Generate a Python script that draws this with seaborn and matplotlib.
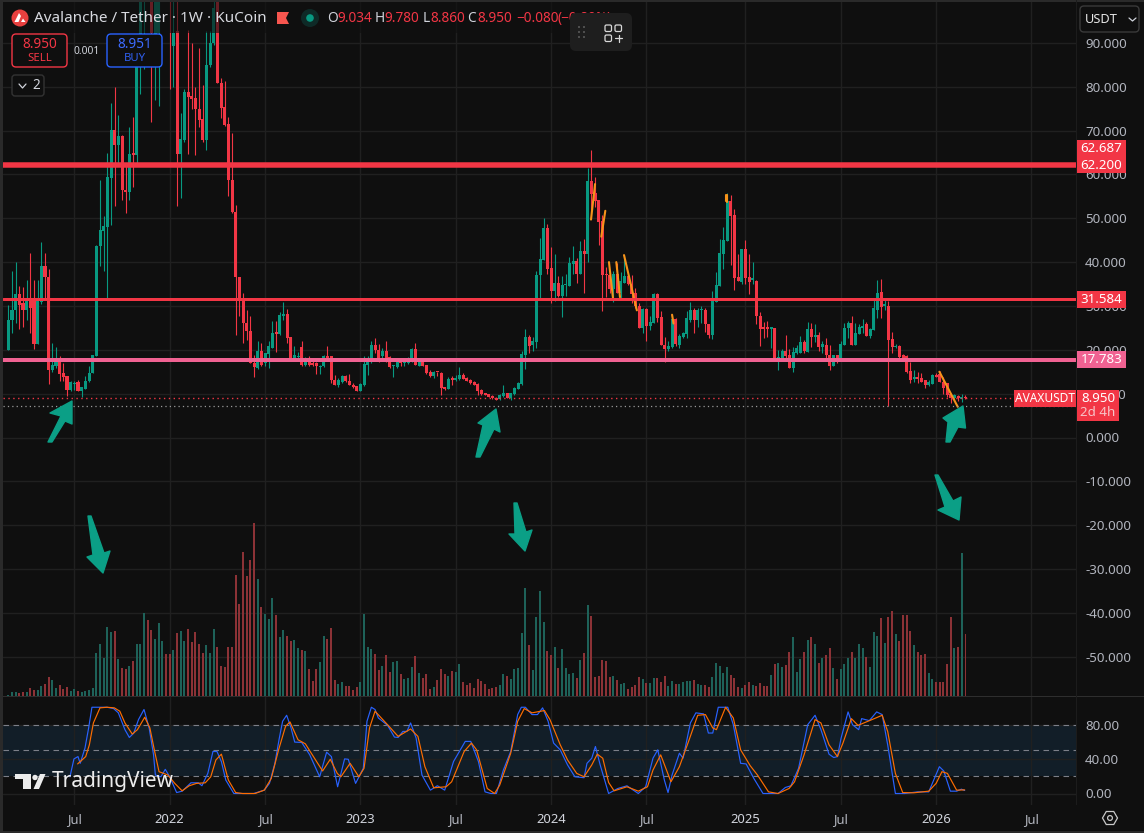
import numpy as np
import pandas as pd
import matplotlib
matplotlib.use("Agg")
import matplotlib.pyplot as plt
from matplotlib.patches import FancyBboxPatch, Polygon, Circle, Rectangle
import seaborn as sns

opens = [19.9,26.8,29,32.8,30.6,29.1,31.4,31.4,21.4,31,
39,36.6,15.4,16.2,17.9,14.7,14.1,10.9,12.2,12.6,
10.5,11.1,12.8,14.8,18.5,43.6,47.2,48.1,59.1,70.2,
66.7,68.8,56.5,56.1,64.7,64.5,84.6,108,125,112,
92,92.2,118,135,120,89.3,92.6,64.7,67.9,78.9,
77.8,77.4,75,72.6,67.9,85,90,100,80.8,75.3,
71.4,58.8,51.5,36.5,31.4,26.1,24.3,17,15.8,19.8,
17,19.1,20.4,24,23.6,27.8,28.2,22.9,18.1,18.3,
20.6,16.6,18.1,17,17.1,16,16.2,18.5,18.5,13.2,
12,12.7,14.1,12.9,12,11.8,10.7,12,16.6,17.3,
21,20,18.5,19.8,18.3,16.2,16,17.4,17.1,17.1,
17.3,20.2,16.4,17.3,16.5,15,14,15,14.8,11.6,
11,13.5,13,13.3,14.3,13.6,13.1,12.7,12.2,10.8,
10.1,9.9,9.5,9.1,8.7,9.5,10.1,9.1,10,11.1,
12.1,18.8,23,21,21.8,37,40.5,47.7,38.6,33.5,
35.2,32.3,34.7,34.6,39.6,40.3,37.3,42.5,41.9,58.5,
55.7,54.2,49.4,37.2,37,33.9,37.3,32.9,35.3,36.8,
35,32.9,30,24.9,29.3,25.4,26.2,32.7,27.4,21.2,
20.2,20.6,27,21.1,23,23.6,26.8,29.1,26.8,29,
29.1,25.9,23.4,30.8,34.6,41.8,44.9,53.9,50.7,36.5,
35.5,43.1,36.7,36,35.7,27.7,24.9,24.9,24.8,24.9,
17.7,18.2,19.8,18.8,15.8,19.2,19.2,21.8,19.6,24.7,
23,23.4,20.7,21.1,18.8,16.4,18.8,17.8,21.1,24.9,
26.2,21.1,23.6,25,25.9,23.2,24.5,29,33.1,29.9,
30,22.4,20.6,20.9,18.8,18.6,15.2,13.3,13.8,13.6,
13,12,12.3,14.2,14.4,12.7,12.5,10,9,9.4,8.7,9.034]
highs = [30.3,37.9,40.1,34.6,34.4,36,42,36,36,44.5,
42,38.4,21.5,20.6,18.5,17,14.1,12.9,12.9,13,
11.6,14,16.2,18.9,44,58.8,50.4,64.8,76.2,79.9,
73.6,69,62.6,70.9,73.2,88.4,115,135,130,118,
112,125,146,140,125,110,100,74,79.5,93,
90,80,88.8,80.4,92.6,92.6,105,103,82,81.3,
73.2,69.4,53,36.7,33,29.1,27.6,18.9,21.9,21.5,
19.2,22.1,26.5,26.5,28.7,31,29.3,22.9,20.8,19.6,
21.9,18.3,18.6,17.6,17.3,16.6,18.9,20.8,18.7,14.3,
13.5,14.3,14.3,14.5,12.4,11.8,12.4,18.5,18.5,21.9,
22.7,21.4,20.4,21.9,18.5,16.5,18.1,18.1,18,18.4,
20.4,21.5,17.5,17.4,16.5,15.5,15.2,15,15,11.6,
13.7,14,14.3,16,14.7,13.7,13.4,12.9,12.4,11,
10.1,10,9.7,9.2,10,12,10.2,10.2,11.5,12.7,
19.8,24.7,23.4,23,38,45.4,50,48.8,43.4,41.8,
36.8,36.8,37.4,41.2,43.7,40.9,44.7,45.2,61.5,65.6,
59.3,54.2,50.7,38.8,37.7,38,39.7,37.8,41.6,37.4,
37,34,30.6,29.5,29.5,27.6,32.9,32.9,28.8,23,
21.9,28.2,27.2,23.5,24.1,28.9,30.8,29.5,29.5,30,
29.5,25.9,33.5,37.7,45.3,47.9,55.7,55.4,52.1,41.8,
43.1,45,41.8,40,36,28.7,26.4,26.6,25.1,24.9,
20,20.1,23.4,20.1,20.6,21,23.1,22.2,26.4,26,
25.9,24.1,21.9,22.6,21.1,18.9,18.9,21.9,26,26.6,
27.6,26.2,25.8,27,26.4,24.9,31.5,35.9,36.1,31.5,
31.2,24,21.3,21.1,19,18.8,17.3,15.4,15,14.6,
13.1,13,14.5,14.6,15.2,13.9,12.5,10,9.9,9.7,9.9,9.78]
lows = [19.9,23.8,26,24.7,25.3,26.8,23.8,20.2,21.4,30.5,
31.4,12.2,15,15.8,12.8,12.8,9.5,10.7,10.9,10.5,
9.2,11.1,12.6,14.7,18.5,39,37.9,31.8,48.5,52.7,
62.6,54.2,51.2,54.2,57.2,62.2,78.3,84,100,72,
77,75.5,100,105,79.4,80,52.7,54.6,67.5,64.7,
75,64.5,70.9,67.5,65.6,84.6,89.5,80.8,72.8,71.1,
55.1,51.2,23.4,27.6,21.5,22.3,17,13.9,15.6,16.2,
16.4,15.8,20.4,19.4,23.4,26.7,21.5,17.9,17.6,17.7,
16.2,16.4,16.4,16.4,14.5,14.5,16,17.5,12.4,12,
11.6,12.5,12.7,11.9,11.4,10.7,10.7,11.8,14.3,17,
19.2,17.3,17.7,17.3,15.8,13.9,15.8,16.3,16.2,16.8,
17.3,16.5,16.3,16.2,14.4,13.9,13.6,14,9.7,10.9,
11,12,12.9,13,13.3,12.9,12.2,11.9,9.7,9.8,
9.6,9.2,8.8,8.5,8.5,9.3,9,8.6,9.8,11,
12,15.6,19.2,19.8,20.4,31.5,40.5,37.4,30.6,31.2,
32.1,27.4,32.3,34.6,37.4,35.3,37.3,33,40.1,49.8,
52.6,43.9,28.9,32.1,32.9,30.8,32.9,31.5,35.3,34.7,
30.6,29.5,24.9,23.8,21.9,24.5,26.2,26.4,21.1,17.3,
19.8,20.3,20.9,20.3,22.8,22.6,26.4,23.8,25.1,26,
24.1,22.6,22.5,30.8,34.6,38.4,44.9,39.3,33.6,35.6,
35,35,32.7,35.1,25.9,20.9,22.6,23,20.3,17.7,
15.4,18.2,18,15.8,14.9,19,19.2,19.2,19.6,20.6,
21.7,19.7,19.2,17.7,15.5,16.4,17,17.8,21.1,22.6,
21.1,21.1,23.6,23.8,23.2,22.8,24.5,27.2,27.2,29,
7.2,19.2,20.3,17.7,17.5,14.8,12.4,12.7,12.5,12.6,
11.4,11.7,12.3,13.7,12.7,10,9.3,7.8,8.4,8.4,8.2,8.86]
closes = [26.8,29.1,32.8,30.3,29.1,31.8,29.5,21.4,31.4,39,
36.6,15.4,16.6,17.7,14.5,13.9,10.9,12.6,12.4,10.7,
11.5,12.8,14.8,18.9,43.7,47.4,48.3,59.5,70.2,66.7,
68.8,56.5,55.9,64.7,64.5,84.6,108,125,112,92.2,
108,118,135,120,100,92.2,64.7,68,78.9,77.6,
77.2,75,72.4,67.9,85,90,98,80.8,75.2,71.3,
58.8,51.5,36.5,31.8,26.1,24.2,17.1,16,19.8,16.6,
19.2,20.8,23.8,23.6,28,28.2,22.7,18.1,18.9,18.6,
16.6,17.3,16.6,16.6,16.2,16.4,18.5,17.5,13,12,
13,14.1,12.8,12,11.6,10.7,12.2,16.8,17.6,21,
20,17.7,19.8,17.7,16,16.4,17.6,16.9,17.3,17.7,
20.2,16.5,17.3,16.3,14.6,14,15,14.9,11.2,11,
13.3,13.1,13.6,14.3,13.3,12.9,12.4,12,10.7,9.9,
9.7,9.3,8.9,8.6,9.7,10.2,9.1,10.1,11.4,12.4,
19,23,20.9,22,37,40.7,47.7,38.4,33.5,35.2,
32.3,34.8,34.9,39.7,40.2,37.3,42.5,41.8,58.5,55.5,
54,49.2,37,37,33.9,37.3,32.9,35.7,36.8,34.9,
32.7,30,24.9,29.3,25.4,26.3,32.7,27.2,21.1,20.2,
20.9,27,21.3,23.2,23.8,27.2,29.1,26.8,29.1,29,
25.8,23.4,31.7,34.8,42,45,53.9,50.6,36.3,35.6,
43.1,36.3,35.5,36.3,27.6,24.7,24.8,24.8,24.9,17.8,
18.4,19.8,18.6,15.8,19.4,20.4,21.8,19.7,24.7,23,
23.2,20.7,21.3,18.8,16.4,18.8,17.7,21.3,25,26.2,
21.1,23.9,25.1,25.5,23.2,24.7,29.5,33,29.8,30.5,
22.2,20.6,20.8,18.4,17.5,15,13.1,13.7,13.3,12.6,
12,12.7,14.2,13.7,12.7,11.2,9.7,9,9.6,9,9.2,8.95]
volumes = [3,12,12,9,12,12,24,18,18,30,
36,57,48,24,33,21,27,15,21,15,
12,15,18,24,129,156,114,207,192,195,
111,84,81,90,105,156,156,249,228,198,
171,219,165,126,126,138,189,195,165,201,
162,192,156,129,153,129,201,147,90,87,
147,147,363,276,432,360,408,519,351,267,
246,231,294,243,177,198,180,165,168,144,
138,135,81,45,81,102,180,171,204,48,
36,42,30,30,18,27,42,246,147,141,
126,78,90,123,72,102,105,66,51,54,
87,120,69,54,66,21,27,48,81,66,
60,75,72,96,42,33,39,24,51,45,
36,21,
24,27,33,66,60,51,81,84,189,324,
153,78,237,315,222,135,123,147,84,141,
84,66,69,54,108,129,273,240,57,60,
108,105,57,60,48,36,39,21,27,33,
57,51,39,39,54,54,42,60,30,45,
36,36,42,45,45,48,36,33,33,27,
57,99,90,69,87,63,54,27,24,33,
42,33,30,39,30,30,63,96,99,87,
93,132,177,72,111,132,168,177,156,99,
114,123,144,84,51,81,96,114,132,114,
156,144,117,87,192,180,234,159,237,255,
186,165,243,243,195,153,132,123,126,69,
51,42,42,42,96,237,144,147,429,186]

k_weeks = [16.8,17.9,19,19.6,20.9,21.9,22.8,24.5,26.9,28.7,30,31.8,33,34.2,35.5,37,38.4,39.6,40.1,41.6,
42.8,44,45.9,47.4,49.8,51.8,52.8,54.4,55.8,56.9,58.1,59.3,61.5,63,66.9,69.8,71.2,72.7,73.9,74.8,
75.9,77.1,78.1,80,82.2,84.9,86.8,88.1,89.8,91.7,92.7,94.7,96.8,97.8,99,100,100.9,103.4,105.3,106.3,
107.6,108.7,109.7,111.2,112.8,115.1,117,119,121.4,124.6,126.1,128.2,130,131.6,133.1,135,137,138.9,139.9,141,
142.8,144.3,145.7,147.2,148.7,150.5,152.5,154.5,157,157.8,159.1,160.1,161.4,163.7,166.2,168.7,171.8,173.8,175.8,177.1,
178.9,179.9,181,183,184,186,187.5,189.6,190.9,192.1,193.6,196.2,197.7,199.7,201.2,203.3,205.8,209.9,211.9,213.4,
215.5,218,220,221.6,223.8,225.1,226.1,227.1,229,230.2,231.9,232.7,234.8,236.8,238.3,239.8,241.9,244.4,248,251,
253.9,255.1,256.9,258.6,259.9,260.8]
k_values = [19.4,40.1,42.8,35,52.6,76,100,100,100,98.5,93.5,74,65,70,85.7,97.4,76,44.8,21.4,19.4,
28,19.4,1.1,2.7,12.4,12.4,9,23.3,48.7,48.7,37,15.6,0,0,0,3.9,11.7,35,64.3,83.8,
90.7,76,59.6,59.2,44.8,19.4,47.9,42.8,7.8,40.1,39.7,11.7,29.2,83.7,100,97.4,87.6,79.1,65.4,65,
72,72,81.8,64.3,21.4,3.9,9,3.9,37,60.4,60.4,37,1.9,0,0,27.2,48.7,91.5,100,100,
91.5,91.5,99.3,83.7,58.4,50.6,33.1,19.4,18.3,35,40.9,54.5,33.1,0,5.8,8.9,0,7.8,40.9,50.6,
15.6,1.1,21.4,46.7,40.9,81.8,93.5,92.3,70.1,70.1,100,100,79.8,35,34.3,17.5,0,0,7,8.9,
29.2,79.8,90.7,74,45.6,41.7,42.8,64.3,94.6,79.8,74,86.8,84.5,94.6,91.5,56.5,0,0,1.9,1.9,
31.1,26.1,2.7,2.7,5,3.5]
d_weeks = [18.9,21.1,22.1,23.2,25,26.9,28.9,30.4,31.8,33.8,35.2,37.2,38.6,39.9,41.1,43.5,45.4,47.4,49.3,51.3,
53.7,55.2,56.6,58.1,60,62,63.9,67.3,69.8,71.7,73.7,75.6,76.8,79,81,82.9,85.7,87.8,89.7,90.7,
93.2,95.6,97,98.5,100,103.4,106.3,109.7,111.7,113.6,116,119.4,120.9,124.3,126.3,127.7,130.6,132.6,134,137,
138.9,140.7,142.8,146.2,147.7,150.5,152.5,155,157,159.1,160.6,162.1,163.7,165.2,168.7,171.8,174.3,175.8,177.9,180.7,
183,185.5,188,190.1,192.1,193.1,195.6,197.7,199.7,202.3,204.3,207.3,209.9,212.9,214.4,217,220,221.6,223.8,226.1,
227.6,229.9,231.7,235.3,238.3,239.8,241.9,243.9,246.9,251,253,254.6,256.1,258.6,260.8]
d_values = [34.3,42.8,56.5,81.8,99.3,100,99.3,95.4,81.8,68.9,74,88.4,76,48.7,25.3,21.4,11.7,3.1,8.9,11.7,
12.4,19.4,38.9,45.6,15.6,1.1,0,0,3.9,17.5,50.6,77.9,83,62.3,57.6,44.8,26.1,39.7,23.3,19.4,
35,19.4,29.2,76,95.4,79.8,66.2,74.8,66.2,31.1,6.6,7.8,13.6,48.7,58.4,50.6,5.8,0,9.7,46.7,
83.7,98.5,93.5,96.2,85.7,56.5,38.9,23.3,19.4,33.1,45.6,40.9,12.8,3.1,7.8,2.7,7.8,27.2,44.8,13.6,
31.1,60.4,90.7,91.5,76,74,100,87.6,50.6,32.3,21.4,1.9,0,5.8,13.6,44.8,85.7,81.8,56.5,42.8,
58.4,86.8,79,85.3,90.7,72,23.3,1.1,0.8,2.7,11.7,25.3,23.3,3.9,4.2]

price_ticks = [-50,-40,-30,-20,-10,0,10,20,30,40,50,60,70,80,90]
date_ticks = [18,44,70,96,122,148,174,201,227,253,279]
date_labels = ["Jul","2022","Jul","2023","Jul","2024","Jul","2025","Jul","2026","Jul"]
year_labels = {"2022","2023","2024","2025","2026"}
level_values = [62.2,31.584,17.783]
level_widths = [5.5,3,4]
orange_segments = [([160,158.9],[57.8,49.7]),([162.8,161.7],[51.7,45.8]),([163.8,164.9],[40,31.7]),
                   ([165.8,166.8],[40,32]),([167.9,171.4],[41.6,29]),([181,181.4],[28,26]),
                   ([196,196],[55.3,53.8]),([195.7,195.7],[55.3,53.9]),([253.9,258.9],[15,7])]

assert all(len(a) == 262 for a in (opens, highs, lows, closes, volumes))
assert len(k_weeks) == len(k_values) and len(d_weeks) == len(d_values)

BG = "#0f0f0f"; GREEN = "#089981"; RED = "#f23645"; PINK = "#f06292"
VG = "#1e6259"; VR = "#8c3236"; GRID = "#202020"; TXT = "#b2b5be"
W, H = 1144, 833
sns.set_theme(style="dark", rc={"axes.facecolor": BG, "figure.facecolor": BG, "savefig.facecolor": BG})
plt.rcParams["font.family"] = ["Noto Sans", "DejaVu Sans"]

df = pd.DataFrame({"week": np.arange(262), "o": opens, "h": highs, "l": lows, "c": closes, "v": volumes})
df["dir"] = np.where(df.c >= df.o, "up", "down")

fig = plt.figure(figsize=(W / 100, H / 100), dpi=100)
def rect(x0, y0, x1, y1):
    return [x0 / W, 1 - y1 / H, (x1 - x0) / W, (y1 - y0) / H]

PX = 3.667
x0 = 8.33
xlim = ((3 - x0) / PX, (1076 - x0) / PX)

ax = fig.add_axes(rect(3, 0, 1076, 696))
ax.set_xlim(xlim)
ax.set_ylim((437.5 - 696) / 4.385, 437.5 / 4.385)
ax.set_yticks(price_ticks)
ax.set_yticklabels([f"{t:.3f}" for t in price_ticks], fontsize=9.6, color=TXT)
ax.yaxis.tick_right()
ax.set_xticks(date_ticks)
ax.tick_params(axis="both", length=0, pad=6.5)
ax.tick_params(axis="x", labelbottom=False)
ax.grid(True, color=GRID, lw=1)
ax.set_axisbelow(True)
for s in ax.spines.values():
    s.set_visible(False)

# volume pane
axv = fig.add_axes(rect(3, 0, 1076, 696), sharex=None)
axv.patch.set_alpha(0)
sns.barplot(data=df, x="week", y="v", hue="dir", hue_order=["up", "down"], palette={"up": VG, "down": VR},
            native_scale=True, dodge=False, width=0.5, saturation=1, legend=False, linewidth=0, ax=axv)
axv.set_xlim(xlim)
axv.set_ylim(0, 696 * 3)
axv.axis("off")

# candles on top
axc = fig.add_axes(rect(3, 0, 1076, 696))
axc.patch.set_alpha(0)
axc.set_xlim(xlim)
axc.set_ylim(ax.get_ylim())
colors = np.where(df.c >= df.o, GREEN, RED)
axc.vlines(df.week, df.l, df.h, colors=colors, lw=0.8)
tops = np.maximum(df.o, df.c); bots = np.minimum(df.o, df.c)
axc.bar(df.week, np.maximum(tops - bots, 0.3), bottom=bots, width=0.82, color=colors, linewidth=0)
for xs, ys in orange_segments:
    axc.plot(xs, ys, color="#f7931a", lw=1.5, solid_capstyle="round")
for v, lw, c in zip(level_values, level_widths, [RED, RED, PINK]):
    axc.axhline(v, color=c, lw=lw * 0.72)
axc.axhline(8.95, color=RED, lw=1, ls=(0, (1, 2.5)))
axc.axhline(7.1, color="#9a9a9a", lw=0.9, ls=(0, (1, 2.5)))
axc.axis("off")

# stochastic pane
axs = fig.add_axes(rect(3, 697, 1076, 805))
axs.set_xlim(xlim)
axs.set_ylim((793.5 - 805) / 0.8625, (793.5 - 697) / 0.8625)
axs.axhspan(20, 80, color="#121e28", lw=0, zorder=0)
for v in (20, 50, 80):
    axs.axhline(v, color="#7c7f88", lw=0.8, ls=(0, (5, 4)), zorder=1)
sns.lineplot(x=k_weeks, y=k_values, sort=False, estimator=None, color="#2962ff", lw=0.85, ax=axs, zorder=3)
sns.lineplot(x=d_weeks, y=d_values, sort=False, estimator=None, color="#ff6d00", lw=0.85, ax=axs, zorder=4)
axs.set_xlim(xlim)
axs.set_ylim((793.5 - 805) / 0.8625, (793.5 - 697) / 0.8625)
axs.set_yticks([0, 40, 80])
axs.set_yticklabels(["0.00", "40.00", "80.00"], fontsize=9.6, color=TXT)
axs.yaxis.tick_right()
axs.set_xticks(date_ticks)
axs.set_xticklabels(date_labels, fontsize=9.4, color=TXT)
for lab in axs.get_xticklabels():
    if lab.get_text() in year_labels:
        lab.set_color("#d1d4dc"); lab.set_fontweight("semibold")
axs.tick_params(axis="y", length=0, pad=6.5)
axs.tick_params(axis="x", length=0, pad=6)
axs.grid(True, color=GRID, lw=1)
axs.set_axisbelow(True)
for s in axs.spines.values():
    s.set_visible(False)

# overlay in pixel space: header, labels, arrows
ov = fig.add_axes([0, 0, 1, 1], zorder=10)
ov.patch.set_alpha(0)
ov.set_xlim(0, W); ov.set_ylim(H, 0); ov.axis("off")

def box(x0, y0, x1, y1, fc, ec="none", r=0, lw=1, alpha=None, z=2):
    style = f"round,pad=0,rounding_size={r}" if r else "square,pad=0"
    ov.add_patch(FancyBboxPatch((x0, y0), x1 - x0, y1 - y0, boxstyle=style, fc=fc, ec=ec, lw=lw, alpha=alpha, zorder=z))

def txt(x, y, s, c="white", fs=9.6, ha="left", w="normal", z=5, alpha=None):
    ov.text(x, y, s, color=c, fontsize=fs, ha=ha, va="center", fontweight=w, zorder=z, alpha=alpha)

ov.add_patch(Rectangle((0, 0), 3, H, fc="#2a2a2a", ec="none", zorder=1))
ov.add_patch(Rectangle((0, 0), W, 2, fc="#2a2a2a", ec="none", zorder=1))
ov.add_patch(Rectangle((0, 831), W, 2, fc="#2a2a2a", ec="none", zorder=1))
ov.add_patch(Rectangle((3, 695.5), 1141, 1.4, fc="#2e2e2e", ec="none", zorder=1))
ov.add_patch(Rectangle((1076, 0), 1, 805, fc="#1c1c1c", ec="none", zorder=1))
ov.add_patch(Rectangle((3, 2), 565, 31, fc=BG, ec="none", alpha=0.62, zorder=1.5))

# header
ov.add_patch(Circle((20, 18), 8.5, fc="#e8403f", ec="none", zorder=3))
ov.add_patch(Polygon([(14.5, 22), (19, 13), (21, 16), (18.5, 22)], fc="white", ec="none", zorder=4))
ov.add_patch(Polygon([(21, 22), (23, 18.5), (25.5, 22)], fc="white", ec="none", zorder=4))
txt(34, 18.5, "Avalanche / Tether · 1W · KuCoin", c="#d8dae0", fs=11)
ov.add_patch(Polygon([(277, 12), (289, 12), (286, 18), (289, 24), (277, 24)], fc="#f7564f", ec="none", zorder=3))
ov.add_patch(Circle((310, 18), 9, fc="#0e2a27", ec="none", zorder=3))
ov.add_patch(Circle((310, 18), 3.8, fc=GREEN, ec="none", zorder=4))
for x, lab, xv, val in [(327, "O", 337, "9.034"), (375, "H", 384, "9.780"), (423, "L", 430, "8.860"), (467, "C", 477, "8.950")]:
    txt(x, 18.5, lab, c="#d1d4dc", fs=9.8, z=3)
    txt(xv, 18.5, val, c=RED, fs=9.8, z=3)
txt(516, 18.5, "−0.080", c=RED, fs=9.8, z=3)
txt(558, 18.5, "(−0.89%)", c=RED, fs=9.8, z=3)
# floating toolbar
box(570, 13, 632, 51, "#1e1e1e", r=6, z=4)
for dx in (579, 584):
    for dy in (27, 32, 37):
        ov.add_patch(Circle((dx, dy), 0.9, fc="#6a6a6a", ec="none", zorder=5))
for (bx, by) in [(605, 25), (615, 25), (605, 35)]:
    box(bx, by, bx + 6.5, by + 6.5, "none", ec="#d8d8d8", r=1.5, lw=0.9, z=5)
ov.plot([615, 622], [38, 38], color="#d8d8d8", lw=0.9, zorder=5)
ov.plot([618.5, 618.5], [34.5, 41.5], color="#d8d8d8", lw=0.9, zorder=5)

# sell / buy
box(12, 34, 67, 67, BG, ec=RED, r=4, lw=1, z=3)
txt(39.5, 44, "8.950", c=RED, fs=9.8, ha="center")
txt(39.5, 58, "SELL", c=RED, fs=8.2, ha="center")
txt(87, 51, "0.001", c="#d1d4dc", fs=7.4, ha="center")
box(107, 34, 162, 67, BG, ec="#2962ff", r=4, lw=1, z=3)
txt(134.5, 44, "8.951", c="#3d6bff", fs=9.8, ha="center")
txt(134.5, 58, "BUY", c="#2f5ff0", fs=8.2, ha="center")
box(12, 75, 44, 96, BG, ec="#333333", r=3, lw=1, z=3)
ov.plot([19, 22.5, 26], [84, 88, 84], color="#d1d4dc", lw=0.9, zorder=5)
txt(32, 85.5, "2", c="#d1d4dc", fs=9.8)
# currency selector
box(1080, 6, 1139, 32, BG, ec="#3a3a3a", r=4, lw=1, z=3)
txt(1085, 19, "USDT", c="#e6e6e6", fs=9.2)
ov.plot([1129, 1132.5, 1136], [18, 21, 18], color="#d1d4dc", lw=0.9, zorder=5)

# level labels
for y0, y1, s in [(140, 157, "62.687"), (157, 173, "62.200"), (291, 308, "31.584")]:
    box(1077, y0, 1126, y1, RED, z=3)
    txt(1101.5, (y0 + y1) / 2, s, ha="center", w="medium")
box(1077, 351, 1126, 368, PINK, z=3)
txt(1101.5, 359.5, "17.783", ha="center", w="medium")
box(1014, 390, 1076, 407, RED, z=3)
txt(1045, 398.5, "AVAXUSDT", ha="center", fs=8.6, w="medium")
box(1077, 390, 1119, 421, RED, z=3)
txt(1098, 398.5, "8.950", ha="center", w="medium")
txt(1098, 412, "2d 4h", c="#f7c4c8", ha="center")

# annotation arrows
ARROW = "#0b9f86"
arrows = [
    [(72, 401), (50, 413), (61, 416), (48, 442), (52, 442), (65, 421), (72, 424)],
    [(496, 409), (478, 423), (483, 425), (476, 457), (480, 457), (494, 429), (500, 432)],
    [(963, 406), (943, 418), (948, 422), (946, 442), (950, 442), (958, 427), (965.5, 428)],
    [(88, 516), (91, 516), (104, 553), (110, 551), (103, 573), (87, 557), (93, 555)],
    [(514, 503), (517, 503), (526, 532), (532, 530), (525, 551), (509, 534), (515, 534)],
    [(935, 475), (938, 475), (953, 501), (961, 497), (959, 520), (938, 510), (945, 507)],
]
for pts in arrows:
    ov.add_patch(Polygon(pts, fc=ARROW, ec=ARROW, lw=1, joinstyle="round", zorder=3))

# TradingView logo
ov.add_patch(Polygon([(15, 774), (31, 774), (31, 789), (23, 789), (23, 779), (15, 779)], fc="#ececec", ec="none", zorder=6))
ov.add_patch(Circle((35, 777.5), 2.7, fc="#ececec", ec="none", zorder=6))
ov.add_patch(Polygon([(33.5, 789), (40, 774), (45.5, 774), (39, 789)], fc="#ececec", ec="none", zorder=6))
txt(52, 782, "TradingView", c="#ececec", fs=15, w="semibold", z=6)

# settings icon
hx = [(1110 + 7.5 * np.cos(a), 818 + 7.5 * np.sin(a)) for a in np.radians(np.arange(0, 360, 60))]
ov.add_patch(Polygon(hx, fc="none", ec="#c8c8c8", lw=0.9, zorder=5))
ov.add_patch(Circle((1110, 818), 2.4, fc="none", ec="#c8c8c8", lw=0.9, zorder=5))

fig.savefig("out.png", dpi=100)
